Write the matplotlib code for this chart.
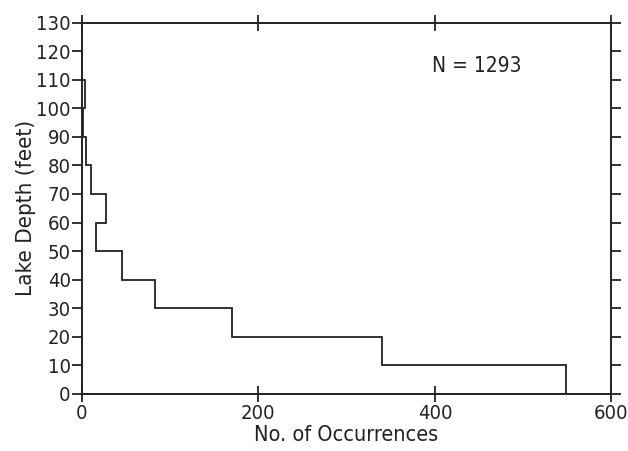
import matplotlib
matplotlib.use('Agg')
import matplotlib.pyplot as plt

# depth classes (ft) and lake counts per class
depth_edges = [0, 10, 20, 30, 40, 50, 60, 70, 80, 90, 100, 110, 120]
occurrences = [548, 340, 170, 83, 46, 16, 27, 10, 5, 2, 4, 0]
n_total = 1293

plt.rcParams['font.family'] = ['DejaVu Sans']
plt.rcParams['font.stretch'] = 'condensed'

ink = '#222222'

fig = plt.figure(figsize=(6.28, 4.51), dpi=100)
ax = fig.add_axes([0.1301, 0.1264, 0.8436, 0.8237])

ax.stairs(occurrences, depth_edges, orientation='horizontal',
          color=ink, linewidth=1.3, baseline=0)

ax.set_xlim(0, 600)
ax.set_ylim(0, 130)
ax.set_xticks([0, 200, 400, 600])
ax.set_yticks(range(0, 131, 10))

for s in ax.spines.values():
    s.set_linewidth(1.4)
    s.set_color(ink)

ax.tick_params(axis='y', left=True, right=True, direction='out', length=7,
               width=1.3, labelsize=14.5, colors=ink, pad=1)
ax.tick_params(axis='x', bottom=True, top=True, direction='inout', length=12,
               width=1.3, labelsize=14.5, colors=ink, pad=1)

ax.set_xlabel('No. of Occurrences', fontsize=15.5, color=ink, labelpad=2)
ax.set_ylabel('Lake Depth (feet)', fontsize=16, color=ink, labelpad=0)

ax.text(397, 114.7, 'N = %d' % n_total, fontsize=15, color=ink, va='center')

fig.savefig('out.png', dpi=100)
